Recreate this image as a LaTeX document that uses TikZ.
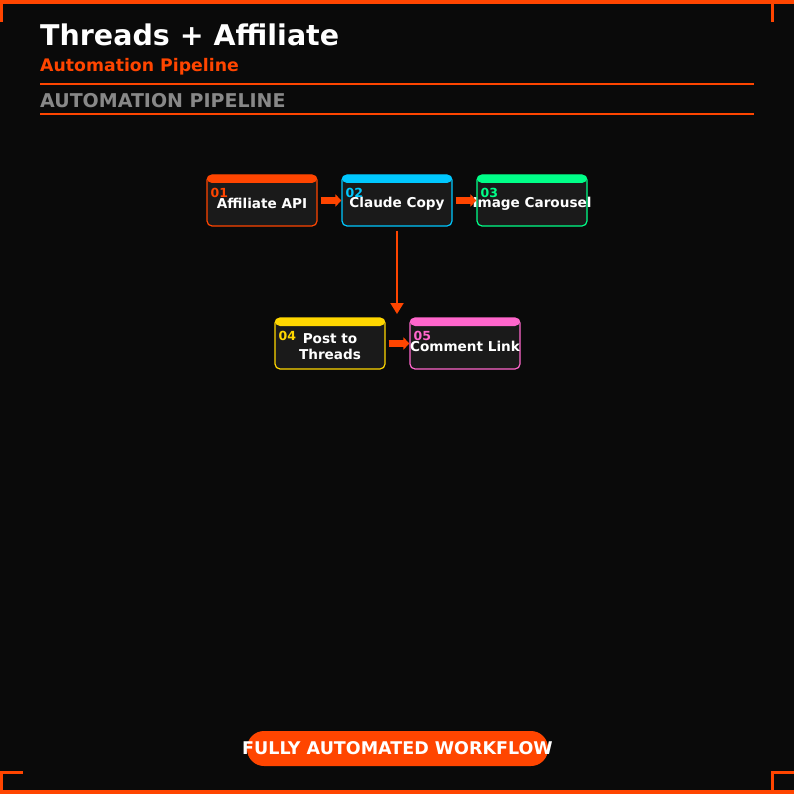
\documentclass[tikz,border=0pt]{standalone}
\usepackage{fontspec}
\setmainfont{DejaVu Sans}
\usepackage{tikz}
\usetikzlibrary{arrows.meta,positioning,calc}
\definecolor{bgDark}{HTML}{0A0A0A}
\definecolor{boxDark}{HTML}{1A1A1A}
\definecolor{accOrange}{HTML}{FF4500}
\definecolor{accCyan}{HTML}{00C8FF}
\definecolor{accGreen}{HTML}{00FF88}
\definecolor{accYellow}{HTML}{FFD700}
\definecolor{accPink}{HTML}{FF66CC}
\definecolor{mutedGray}{HTML}{888888}

\begin{document}
\begin{tikzpicture}[x=1pt, y=-1pt, font=\bfseries,
  stage/.style={draw=#1, line width=1.2pt, fill=boxDark, rounded corners=5pt,
    minimum width=110pt, minimum height=51pt, inner sep=0pt,
    path picture={\fill[#1] (path picture bounding box.north west) rectangle
      ([yshift=-8pt]path picture bounding box.north east);}},
  stagetext/.style={text=white, font=\bfseries\fontsize{13.6}{15.5}\selectfont, align=center, inner sep=0pt},
  num/.style={text=#1, font=\bfseries\fontsize{12.5}{14}\selectfont, anchor=west, inner sep=0pt},
  flow/.style={accOrange, line width=7pt, -{Triangle[length=6pt,width=12pt]}},
  drop/.style={accOrange, line width=2pt, -{Triangle[length=11pt,width=13pt]}}]
% canvas and frame
\fill[bgDark] (0,0) rectangle (794,794);
\useasboundingbox (0,0) rectangle (794,794);
\fill[accOrange] (0,0) rectangle (794,4);
\fill[accOrange] (0,790) rectangle (794,794);
\draw[accOrange, line width=3pt] (1.5,0) -- (1.5,22);
\draw[accOrange, line width=3pt] (772,0) -- (772,22);
\draw[accOrange, line width=3pt] (0,772) -- (23,772) (1.5,772) -- (1.5,794);
\draw[accOrange, line width=3pt] (772,794) -- (772,772) -- (794,772);
% header
\node[anchor=base west, inner sep=0pt, text=white, font=\bfseries\fontsize{28.5}{33}\selectfont] (title) at (40,46) {Threads + Affiliate};
\node[anchor=base west, inner sep=0pt, text=accOrange, font=\bfseries\fontsize{17.3}{20}\selectfont] (subtitle) at (40,72) {Automation Pipeline};
\draw[accOrange, line width=1.3pt] (40,84) -- (754,84);
\node[anchor=base west, inner sep=0pt, text=mutedGray, font=\bfseries\fontsize{19}{22}\selectfont] (section) at (40,107.5) {AUTOMATION PIPELINE};
\draw[accOrange, line width=1.3pt] (40,114) -- (754,114);
% first row
\node[stage=accOrange] (s1) at (262,200.5) {};
\node[stage=accCyan]   (s2) at (397,200.5) {};
\node[stage=accGreen]  (s3) at (532,200.5) {};
\node[stagetext] (t1) at ([yshift=-3pt]s1.center) {Affiliate API};
\node[stagetext] (t2) at ([yshift=-3pt]s2.center) {Claude Copy};
\node[stagetext] (t3) at ([yshift=-3pt]s3.center) {Image Carousel};
\node[num=accOrange] (n1) at ([xshift=4pt,yshift=-19pt]s1.north west) {01};
\node[num=accCyan]   (n2) at ([xshift=4pt,yshift=-19pt]s2.north west) {02};
\node[num=accGreen]  (n3) at ([xshift=4pt,yshift=-19pt]s3.north west) {03};
% second row
\node[stage=accYellow] (s4) at (330,343.5) {};
\node[stage=accPink]   (s5) at (465,343.5) {};
\node[stagetext] (t4) at ([yshift=-3pt]s4.center) {Post to\\Threads};
\node[stagetext] (t5) at ([yshift=-3pt]s5.center) {Comment Link};
\node[num=accYellow] (n4) at ([xshift=4pt,yshift=-19pt]s4.north west) {04};
\node[num=accPink]   (n5) at ([xshift=4pt,yshift=-19pt]s5.north west) {05};
% connectors
\draw[flow] ([xshift=3pt]s1.east) -- (s2.west);
\draw[flow] ([xshift=3pt]s2.east) -- (s3.west);
\draw[flow] ([xshift=3pt]s4.east) -- (s5.west);
\coordinate (turn) at (397,314);
\draw[drop] ([yshift=-4pt]s2.south) -- (turn);
% footer badge
\node[fill=accOrange, rounded corners=17pt, minimum width=301pt, minimum height=35pt, inner sep=0pt] (badge) at (397.5,748.5) {};
\node[text=white, inner sep=0pt, font=\bfseries\fontsize{17.5}{20}\selectfont] (badgetext) at (397.5,748.5) {FULLY AUTOMATED WORKFLOW};
\end{tikzpicture}
\end{document}
